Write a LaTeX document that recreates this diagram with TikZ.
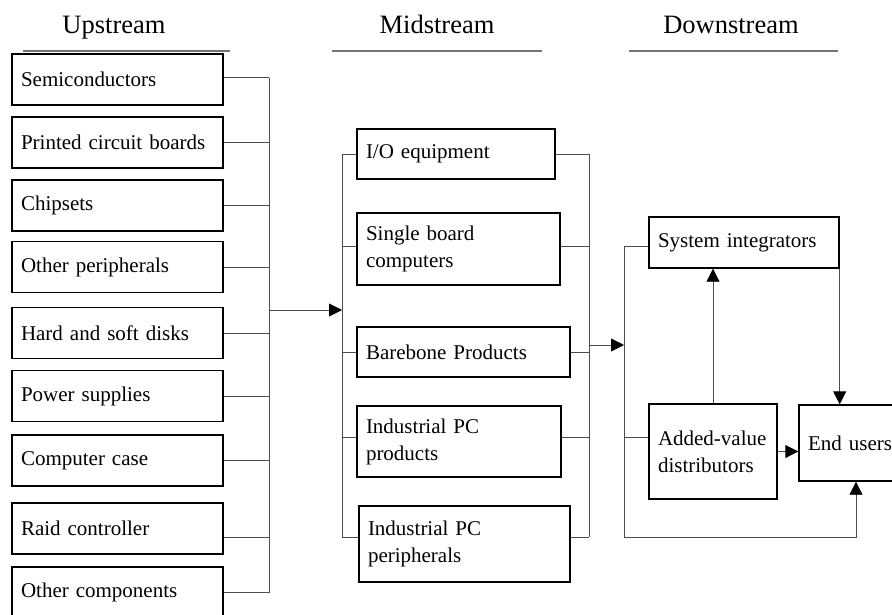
\documentclass[tikz,border=0pt]{standalone}
\usepackage{fontspec}
\setmainfont{Liberation Serif}
\usepackage{tikz}
\usetikzlibrary{arrows.meta, calc, positioning}
\newcommand{\boxfont}{\fontsize{21}{27}\selectfont}
\newcommand{\headfont}{\fontsize{26.5}{30}\selectfont}

\tikzset{
    part/.style={draw, line width=1.4pt, font=\boxfont, align=left,
        inner xsep=9pt, inner ysep=0pt, anchor=center},
    link/.style={draw=black!70, line width=0.9pt},
    flow/.style={link, -{Triangle[length=13pt,width=13pt,color=black]}},
    rule/.style={draw=black!55, line width=1.6pt},
    head/.style={font=\headfont, anchor=base, inner sep=0pt}
}

\begin{document}
\begin{tikzpicture}[x=1pt, y=-1pt]
    \useasboundingbox (0,0) rectangle (892,614);

    % column headings
    \node[head] (up) at (114,33) {Upstream};
    \node[head] (mid) at (437,33) {Midstream};
    \node[head] (down) at (731,33) {Downstream};
    \draw[rule] (23,51) -- (230,51);
    \draw[rule] (332,51) -- (542,51);
    \draw[rule] (629,51) -- (838,51);

    % upstream
    \node[part, text width=193pt, minimum height=51pt] (semi) at (117.5,79.5) {Semiconductors};
    \node[part, text width=193pt, minimum height=51pt] (pcb) at (117.5,142.5) {Printed circuit boards};
    \node[part, text width=193pt, minimum height=51pt] (chip) at (117.5,205.5) {Chipsets};
    \node[part, text width=193pt, minimum height=51pt] (periph) at (117.5,267) {Other peripherals};
    \node[part, text width=193pt, minimum height=51pt] (disk) at (117.5,333) {Hard and soft disks};
    \node[part, text width=193pt, minimum height=51pt] (power) at (117.5,396) {Power supplies};
    \node[part, text width=193pt, minimum height=51pt] (case) at (117.5,460.5) {Computer case};
    \node[part, text width=193pt, minimum height=51pt] (raid) at (117.5,528.5) {Raid controller};
    \node[part, text width=193pt, minimum height=51pt] (comp) at (117.5,592.5) {Other components};

    % midstream
    \node[part, text width=180pt, minimum height=50pt] (io) at (456,154) {I/O equipment};
    \node[part, text width=185pt, minimum height=72pt] (sbc) at (458.5,249) {Single board\\computers};
    \node[part, text width=195pt, minimum height=50pt] (bare) at (463.5,352) {Barebone Products};
    \node[part, text width=186pt, minimum height=71pt] (ipc) at (459,441.5) {Industrial PC\\products};
    \node[part, text width=193pt, minimum height=76pt] (ipp) at (464.5,544) {Industrial PC\\peripherals};

    % downstream
    \node[part, text width=172pt, minimum height=51pt] (sysint) at (744,242.5) {System integrators};
    \node[part, text width=110pt, minimum height=95pt] (avd) at (713,451.5) {Added-value\\distributors};
    \node[part, text width=90pt, minimum height=76pt] (endu) at (853,443) {End users};

    % bus lines
    \coordinate (ubus) at (269,0);
    \coordinate (lbus) at (342,0);
    \coordinate (rbus) at (589,0);
    \coordinate (dbus) at (624,0);
    \coordinate (uout) at (269,310);
    \coordinate (mout) at (589,345);
    \coordinate (dbot) at (624,537);
    \coordinate (ecorner) at (856,537);

    \draw[link] ([yshift=2pt]semi.east) -- ([yshift=2pt]semi.east -| ubus);
    \draw[link] (pcb.east) -- (pcb.east -| ubus);
    \draw[link] (chip.east) -- (chip.east -| ubus);
    \draw[link] (periph.east) -- (periph.east -| ubus);
    \draw[link] (disk.east) -- (disk.east -| ubus);
    \draw[link] (power.east) -- (power.east -| ubus);
    \draw[link] (case.east) -- (case.east -| ubus);
    \draw[link] ([yshift=-8.5pt]raid.east) -- ([yshift=-8.5pt]raid.east -| ubus);
    \draw[link] (comp.east) -- (comp.east -| ubus);
    \draw[link] ([yshift=2pt]semi.east -| ubus) -- (comp.east -| ubus);
    \draw[flow] (uout) -- (uout -| lbus);

    \draw[link] (io.west) -- (io.west -| lbus);
    \draw[link] ([yshift=3pt]sbc.west) -- ([yshift=3pt]sbc.west -| lbus);
    \draw[link] (bare.west) -- (bare.west -| lbus);
    \draw[link] ([yshift=4.5pt]ipc.west) -- ([yshift=4.5pt]ipc.west -| lbus);
    \draw[link] ([yshift=7pt]ipp.west) -- ([yshift=7pt]ipp.west -| lbus);
    \draw[link] (io.west -| lbus) -- ([yshift=7pt]ipp.west -| lbus);

    \draw[link] (io.east) -- (io.east -| rbus);
    \draw[link] ([yshift=3pt]sbc.east) -- ([yshift=3pt]sbc.east -| rbus);
    \draw[link] (bare.east) -- (bare.east -| rbus);
    \draw[link] ([yshift=4.5pt]ipc.east) -- ([yshift=4.5pt]ipc.east -| rbus);
    \draw[link] ([yshift=7pt]ipp.east) -- ([yshift=7pt]ipp.east -| rbus);
    \draw[link] (io.east -| rbus) -- ([yshift=7pt]ipp.east -| rbus);
    \draw[flow] (mout) -- (mout -| dbus);

    \draw[link] ([yshift=-3.5pt]sysint.west) -- ([yshift=-3.5pt]sysint.west -| dbus);
    \draw[link] ([yshift=14.5pt]avd.west) -- ([yshift=14.5pt]avd.west -| dbus);
    \draw[link] ([yshift=-3.5pt]sysint.west -| dbus) -- (dbot);
    \draw[flow] (dbot) -- (ecorner) -- (ecorner |- endu.south);

    \draw[flow] (avd.north) -- (avd.north |- sysint.south);
    \draw[flow] (sysint.south east) -- (sysint.south east |- endu.north);
    \draw[flow] (avd.east) -- (avd.east -| endu.west);
\end{tikzpicture}
\end{document}
